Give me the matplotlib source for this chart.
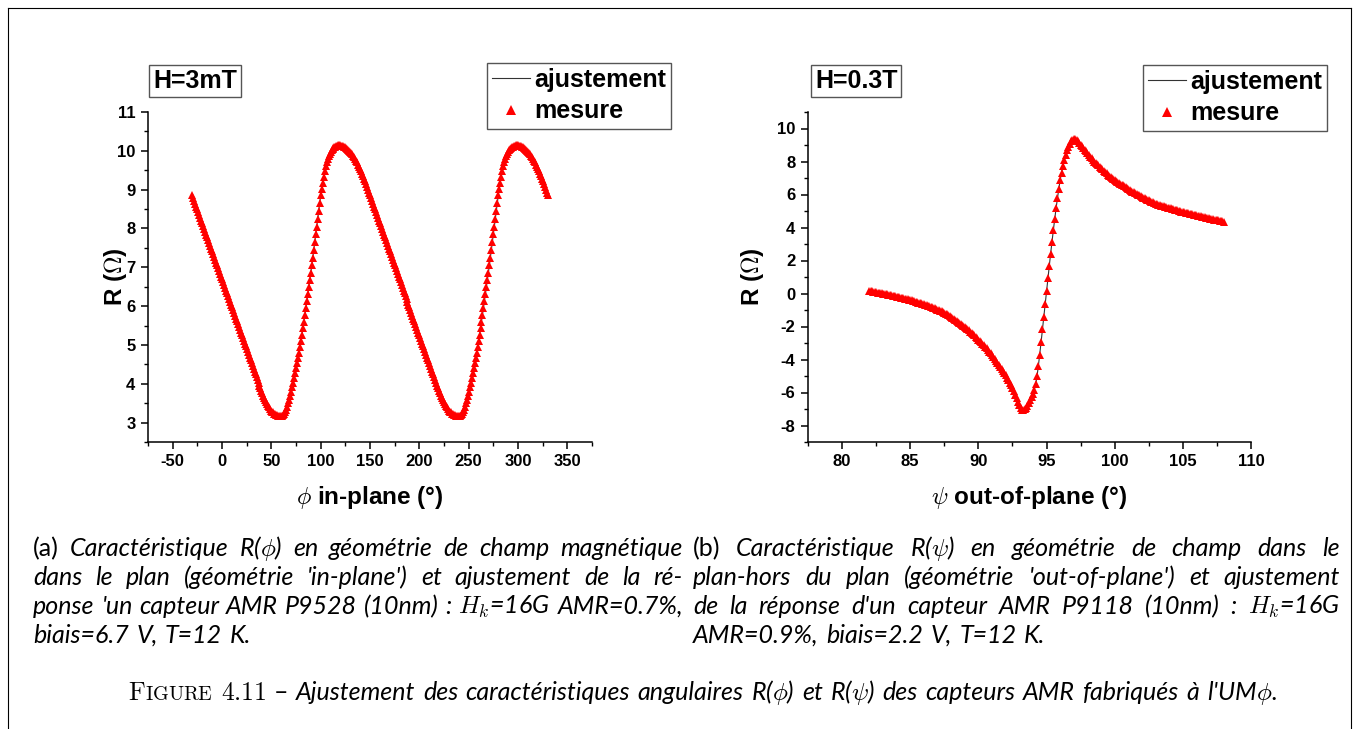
import numpy as np
import matplotlib
matplotlib.use("Agg")
import matplotlib.pyplot as plt
from matplotlib.lines import Line2D
from matplotlib.ticker import MultipleLocator

W, H = 1357, 729

plt.rcParams['font.family'] = ['Liberation Sans', 'DejaVu Sans']
plt.rcParams['mathtext.fontset'] = 'cm'
plt.rcParams['axes.unicode_minus'] = False

# R(phi), in-plane sweep, 1 degree step from -30 to 330
phi_deg = np.arange(-30, 331, 1)
r_phi = [
    8.85, 8.78, 8.71, 8.63, 8.56, 8.49, 8.42, 8.35, 8.27, 8.20,
    8.13, 8.06, 7.99, 7.91, 7.84, 7.77, 7.70, 7.63, 7.55, 7.48,
    7.41, 7.34, 7.27, 7.19, 7.12, 7.05, 6.98, 6.91, 6.83, 6.76,
    6.69, 6.62, 6.55, 6.47, 6.40, 6.33, 6.26, 6.19, 6.11, 6.04,
    5.97, 5.90, 5.83, 5.75, 5.68, 5.61, 5.54, 5.47, 5.39, 5.32,
    5.25, 5.18, 5.11, 5.03, 4.96, 4.89, 4.82, 4.75, 4.67, 4.60,
    4.53, 4.46, 4.39, 4.31, 4.24, 4.17, 4.10, 4.03, 3.95, 3.88,
    3.81, 3.75, 3.68, 3.63, 3.57, 3.52, 3.47, 3.43, 3.39, 3.35,
    3.31, 3.28, 3.26, 3.23, 3.21, 3.20, 3.19, 3.18, 3.17, 3.17,
    3.17, 3.18, 3.20, 3.23, 3.27, 3.33, 3.41, 3.50, 3.59, 3.69,
    3.80, 3.91, 4.03, 4.15, 4.27, 4.40, 4.53, 4.66, 4.80, 4.95,
    5.10, 5.26, 5.43, 5.60, 5.77, 5.95, 6.13, 6.31, 6.49, 6.67,
    6.85, 7.05, 7.25, 7.45, 7.65, 7.85, 8.05, 8.25, 8.45, 8.65,
    8.85, 9.02, 9.18, 9.33, 9.47, 9.60, 9.71, 9.80, 9.87, 9.93,
    9.97, 10.01, 10.04, 10.07, 10.09, 10.11, 10.12, 10.13, 10.14, 10.14,
    10.14, 10.13, 10.13, 10.12, 10.11, 10.09, 10.07, 10.05, 10.03, 10.00,
    9.97, 9.94, 9.91, 9.87, 9.83, 9.79, 9.74, 9.70, 9.64, 9.59,
    9.53, 9.47, 9.41, 9.35, 9.28, 9.21, 9.14, 9.07, 9.00, 8.92,
    8.85, 8.78, 8.71, 8.63, 8.56, 8.49, 8.42, 8.35, 8.27, 8.20,
    8.13, 8.06, 7.99, 7.91, 7.84, 7.77, 7.70, 7.63, 7.55, 7.48,
    7.41, 7.34, 7.27, 7.19, 7.12, 7.05, 6.98, 6.91, 6.83, 6.76,
    6.69, 6.62, 6.55, 6.47, 6.40, 6.33, 6.26, 6.19, 6.11, 6.04,
    5.97, 5.90, 5.83, 5.75, 5.68, 5.61, 5.54, 5.47, 5.39, 5.32,
    5.25, 5.18, 5.11, 5.03, 4.96, 4.89, 4.82, 4.75, 4.67, 4.60,
    4.53, 4.46, 4.39, 4.31, 4.24, 4.17, 4.10, 4.03, 3.95, 3.88,
    3.81, 3.75, 3.68, 3.63, 3.57, 3.52, 3.47, 3.43, 3.39, 3.35,
    3.31, 3.28, 3.26, 3.23, 3.21, 3.20, 3.19, 3.18, 3.17, 3.17,
    3.17, 3.18, 3.20, 3.23, 3.27, 3.33, 3.41, 3.50, 3.59, 3.69,
    3.80, 3.91, 4.03, 4.15, 4.27, 4.40, 4.53, 4.66, 4.80, 4.95,
    5.10, 5.26, 5.43, 5.60, 5.77, 5.95, 6.13, 6.31, 6.49, 6.67,
    6.85, 7.05, 7.25, 7.45, 7.65, 7.85, 8.05, 8.25, 8.45, 8.65,
    8.85, 9.02, 9.18, 9.33, 9.47, 9.60, 9.71, 9.80, 9.87, 9.93,
    9.97, 10.01, 10.04, 10.07, 10.09, 10.11, 10.12, 10.13, 10.14, 10.14,
    10.14, 10.13, 10.13, 10.12, 10.11, 10.09, 10.07, 10.05, 10.03, 10.00,
    9.97, 9.94, 9.91, 9.87, 9.83, 9.79, 9.74, 9.70, 9.64, 9.59,
    9.53, 9.47, 9.41, 9.35, 9.28, 9.21, 9.14, 9.07, 9.00, 8.92,
    8.85,
]

# R(psi), out-of-plane sweep, 0.1 degree step from 82 to 108
psi_deg = np.round(np.arange(820, 1081) / 10, 1)
r_psi = [
    0.17, 0.15, 0.13, 0.12, 0.10, 0.08, 0.06, 0.04, 0.03, 0.01,
    -0.01, -0.03, -0.05, -0.06, -0.08, -0.10, -0.12, -0.14, -0.15, -0.17,
    -0.19, -0.21, -0.23, -0.25, -0.27, -0.29, -0.31, -0.33, -0.36, -0.38,
    -0.40, -0.42, -0.45, -0.47, -0.50, -0.52, -0.55, -0.57, -0.60, -0.62,
    -0.65, -0.68, -0.71, -0.74, -0.77, -0.80, -0.83, -0.87, -0.90, -0.94,
    -0.97, -1.01, -1.05, -1.09, -1.13, -1.18, -1.22, -1.27, -1.32, -1.37,
    -1.42, -1.48, -1.53, -1.59, -1.64, -1.70, -1.76, -1.83, -1.89, -1.96,
    -2.02, -2.09, -2.16, -2.23, -2.31, -2.38, -2.46, -2.54, -2.62, -2.70,
    -2.79, -2.87, -2.96, -3.05, -3.14, -3.23, -3.33, -3.43, -3.53, -3.63,
    -3.73, -3.84, -3.95, -4.07, -4.19, -4.31, -4.44, -4.57, -4.70, -4.83,
    -4.96, -5.11, -5.26, -5.42, -5.57, -5.72, -5.93, -6.14, -6.36, -6.57,
    -6.78, -6.95, -7.05, -7.05, -7.00, -6.92, -6.80, -6.65, -6.48, -6.30,
    -6.10, -5.85, -5.50, -5.02, -4.40, -3.70, -2.95, -2.18, -1.40, -0.62,
    0.15, 0.92, 1.68, 2.42, 3.14, 3.84, 4.52, 5.17, 5.78, 6.35,
    6.87, 7.33, 7.74, 8.10, 8.41, 8.68, 8.90, 9.08, 9.22, 9.32,
    9.36, 9.34, 9.29, 9.22, 9.13, 9.03, 8.93, 8.83, 8.72, 8.61,
    8.50, 8.40, 8.30, 8.20, 8.10, 8.00, 7.92, 7.84, 7.76, 7.68,
    7.60, 7.52, 7.44, 7.36, 7.28, 7.20, 7.13, 7.07, 7.00, 6.94,
    6.88, 6.82, 6.77, 6.71, 6.66, 6.60, 6.55, 6.49, 6.44, 6.38,
    6.33, 6.28, 6.23, 6.18, 6.13, 6.08, 6.03, 5.99, 5.94, 5.90,
    5.85, 5.81, 5.77, 5.72, 5.68, 5.64, 5.60, 5.56, 5.53, 5.49,
    5.45, 5.42, 5.39, 5.36, 5.33, 5.30, 5.28, 5.25, 5.23, 5.20,
    5.18, 5.16, 5.13, 5.11, 5.08, 5.06, 5.04, 5.01, 4.99, 4.96,
    4.94, 4.92, 4.90, 4.87, 4.85, 4.83, 4.81, 4.79, 4.77, 4.75,
    4.73, 4.71, 4.69, 4.67, 4.65, 4.63, 4.61, 4.59, 4.57, 4.55,
    4.53, 4.51, 4.50, 4.48, 4.46, 4.45, 4.43, 4.41, 4.39, 4.38,
    4.36,
]

field_labels = ["H=3mT", "H=0.3T"]
legend_labels = ["ajustement", "mesure"]
x_labels = [r"$\phi$ in-plane (°)", r"$\psi$ out-of-plane (°)"]
y_label = r"R ($\Omega$)"

caption_a = [
    r"(a) Caractéristique R($\phi$) en géométrie de champ magnétique",
    r"dans le plan (géométrie 'in-plane') et ajustement de la ré-",
    r"ponse 'un capteur AMR P9528 (10nm) : $H_k$=16G AMR=0.7%,",
    r"biais=6.7 V, T=12 K.",
]
caption_b = [
    r"(b) Caractéristique R($\psi$) en géométrie de champ dans le",
    r"plan-hors du plan (géométrie 'out-of-plane') et ajustement",
    r"de la réponse d'un capteur AMR P9118 (10nm) : $H_k$=16G",
    r"AMR=0.9%, biais=2.2 V, T=12 K.",
]
figure_caption = (r"Ajustement des caractéristiques angulaires R($\phi$) et "
                  r"R($\psi$) des capteurs AMR fabriqués à l'UM$\phi$.")


def fx(x):
    return x / W


def fy(y):
    return 1 - y / H


fig = plt.figure(figsize=(W / 100, H / 100), dpi=100)
renderer = fig.canvas.get_renderer()

ax1 = fig.add_axes([fx(148), fy(442), 444 / W, 330 / H])
ax2 = fig.add_axes([fx(808), fy(442), 443 / W, 330 / H])


def style_axes(ax, xlim, ylim, xmaj, xmin, ymaj, ymin):
    ax.set_xlim(*xlim)
    ax.set_ylim(*ylim)
    ax.xaxis.set_major_locator(MultipleLocator(xmaj))
    ax.xaxis.set_minor_locator(MultipleLocator(xmin))
    ax.yaxis.set_major_locator(MultipleLocator(ymaj))
    ax.yaxis.set_minor_locator(MultipleLocator(ymin))
    for s in ['top', 'right']:
        ax.spines[s].set_visible(False)
    for s in ['left', 'bottom']:
        ax.spines[s].set_linewidth(1.1)
    ax.tick_params(which='major', direction='out', length=5, width=1.1,
                   labelsize=12, pad=4)
    ax.tick_params(which='minor', direction='out', length=3, width=1)
    plt.setp(ax.get_xticklabels(), fontweight='bold')
    plt.setp(ax.get_yticklabels(), fontweight='bold')


# in-plane panel
ax1.plot(phi_deg, r_phi, color='#333333', lw=0.8, zorder=2)
ax1.plot(phi_deg, r_phi, ls='none', marker='^', ms=5.5, mew=0,
         color='red', zorder=3)
style_axes(ax1, (-75, 375), (2.5, 11), 50, 25, 1, 0.5)

# out-of-plane panel
ax2.plot(psi_deg, r_psi, color='#333333', lw=0.8, zorder=2)
ax2.plot(psi_deg, r_psi, ls='none', marker='^', ms=5.5, mew=0,
         color='red', zorder=3)
style_axes(ax2, (77.5, 110), (-9, 11), 5, 2.5, 2, 1)

for ax, xl, ylx in [(ax1, x_labels[0], -0.074), (ax2, x_labels[1], -0.126)]:
    ax.set_xlabel(xl, fontsize=17.5, fontweight='bold', va='center')
    ax.xaxis.set_label_coords(0.5, -0.167)
    ax.set_ylabel(y_label, fontsize=17.5, fontweight='bold', va='center')
    ax.yaxis.set_label_coords(ylx, 0.5)

# field boxes
for x, lbl in [(153, field_labels[0]), (815, field_labels[1])]:
    fig.text(fx(x), fy(81), lbl, fontsize=18, fontweight='bold', va='center',
             bbox=dict(boxstyle='square,pad=0.15', fc='white', ec='#555555',
                       lw=1))

# legends
for ax, (lx, ly) in [(ax1, (487, 63)), (ax2, (1143, 65))]:
    handles = [Line2D([], [], color='#333333', lw=0.8),
               Line2D([], [], ls='none', marker='^', ms=7, mew=0,
                      color='red')]
    leg = ax.legend(handles, legend_labels, loc='upper left',
                    bbox_to_anchor=(fx(lx), fy(ly)),
                    bbox_transform=fig.transFigure,
                    prop=dict(family='Liberation Sans', weight='bold', size=18),
                    frameon=True, fancybox=False, edgecolor='#555555',
                    framealpha=1, borderpad=0.2, labelspacing=0.3,
                    handlelength=1.5, handletextpad=0.2, borderaxespad=0)
    leg.get_frame().set_linewidth(1)

# page frame
frame = dict(transform=fig.transFigure, color='black', lw=0.8)
fig.add_artist(Line2D([fx(8), fx(8)], [0, fy(8)], **frame))
fig.add_artist(Line2D([fx(8), fx(1351)], [fy(8), fy(8)], **frame))
fig.add_artist(Line2D([fx(1351), fx(1351)], [0, fy(8)], **frame))


# caption text, laid out word by word so lines can be justified
CAP_SIZE = 18


def make_run(s, style, size):
    kw = dict(fontsize=size, va='baseline', ha='left', family='Lato')
    if style == 'it':
        kw['style'] = 'italic'
    t = fig.text(0, 0, s, **kw)
    return t, t.get_window_extent(renderer).width


def set_line(words, y, x0=None, width=None, center=None, size=CAP_SIZE):
    built = []
    for word in words:
        runs = [make_run(s, st, sz) for s, st, sz in word]
        built.append((runs, sum(w for _, w in runs)))
    total = sum(b[1] for b in built)
    gap = 0.3 * size * 100 / 72
    if width is not None:
        gap = max((width - total) / (len(built) - 1), 3)
    if center is not None:
        x0 = center - (total + gap * (len(built) - 1)) / 2
    x = x0
    for runs, ww in built:
        for t, w in runs:
            t.set_position((fx(x), fy(y)))
            x += w
        x += gap


def words_of(line):
    out = []
    for w in line.split(' '):
        style = 'rm' if w in ('(a)', '(b)') else 'it'
        out.append([(w, style, CAP_SIZE)])
    return out


baselines = [556, 585, 614, 643]
for lines, x0, x1 in [(caption_a, 33, 683), (caption_b, 693, 1340)]:
    for i, line in enumerate(lines):
        last = i == len(lines) - 1
        set_line(words_of(line), baselines[i], x0=x0,
                 width=None if last else x1 - x0)

fig_words = [[(r"$\mathrm{F}$", 'rm', 18.5), (r"$\mathrm{IGURE}$", 'rm', 14.5)],
             [(r"$\mathrm{4.11}$", 'rm', 18.5)],
             [("–", 'rm', 18)]] + words_of(figure_caption)
set_line(fig_words, 700, center=702)

fig.savefig("out.png", dpi=100)
